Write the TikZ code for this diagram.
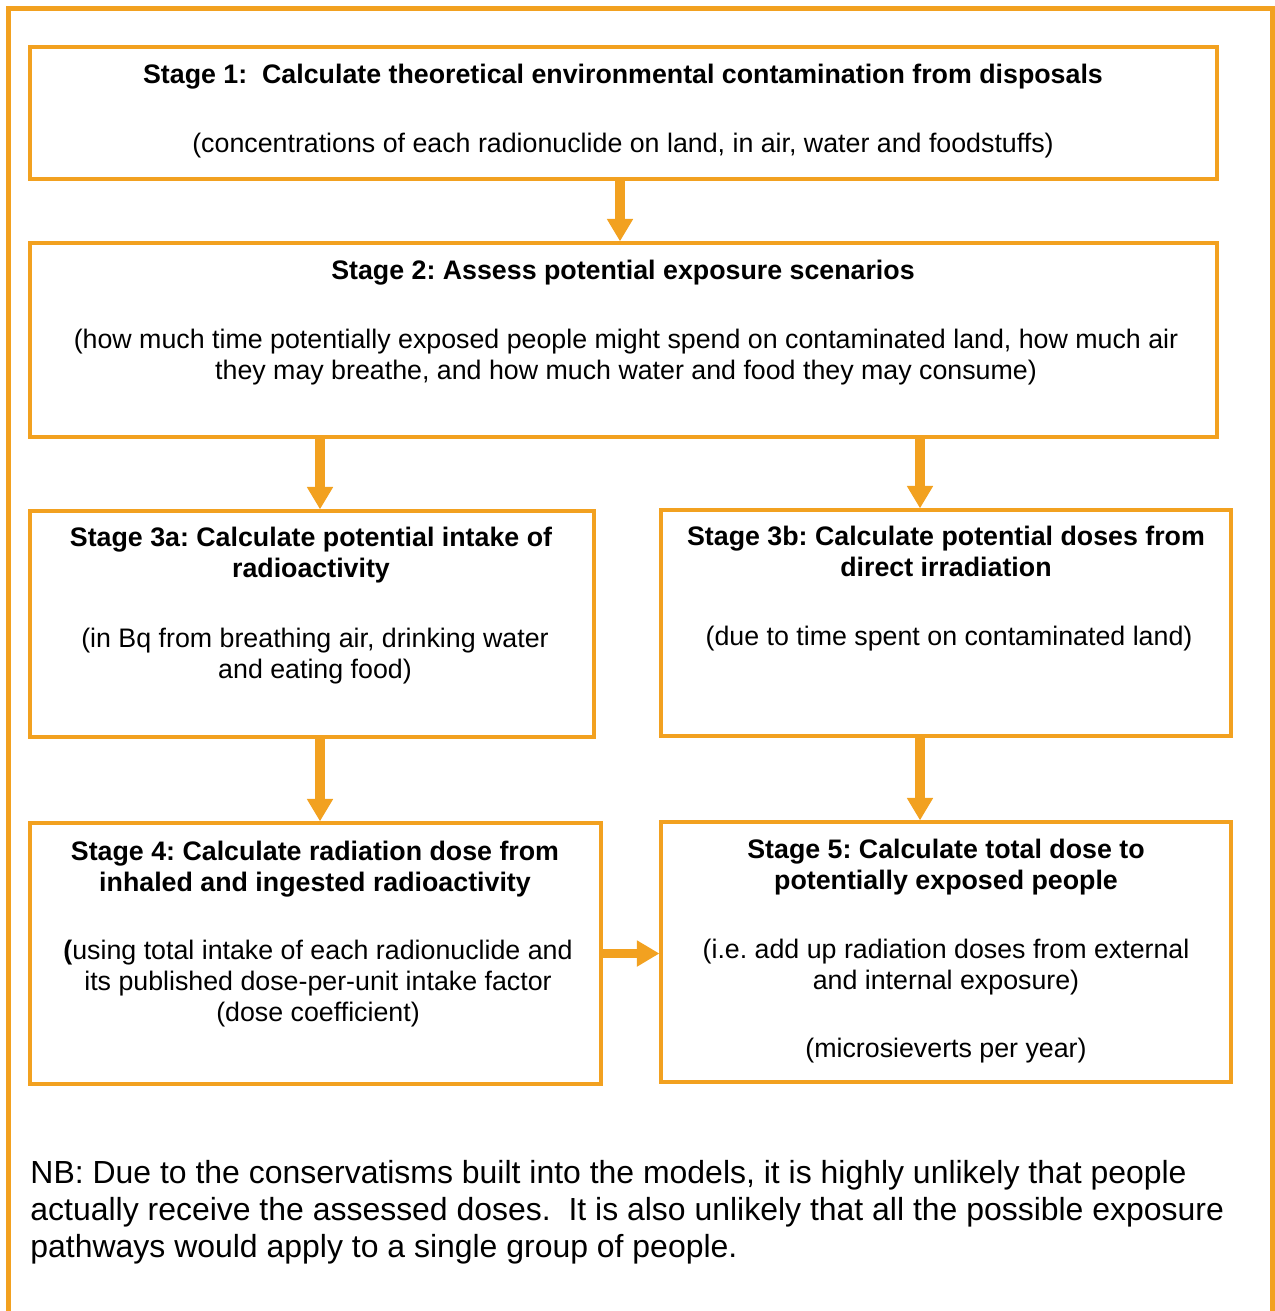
\documentclass[tikz,border=0pt]{standalone}
\usepackage{fontspec}
\setmainfont{Liberation Sans}
\usetikzlibrary{arrows.meta,positioning}
\definecolor{amber}{RGB}{242,161,32}
\def\pxl{0.4444pt}
\frenchspacing

\begin{document}
\begin{tikzpicture}[x=0.4444pt, y=-0.4444pt, line join=miter,
	box/.style={draw=amber, line width=1.4pt, inner sep=0pt},
	flow/.style={draw=amber, line width=4.4pt, -{Triangle[width=11pt,length=10pt]}},
	title/.style={font=\fontsize{11.9}{13.8}\selectfont\bfseries, align=center, inner sep=0pt},
	body/.style={font=\fontsize{11.9}{13.8}\selectfont, align=center, inner sep=0pt}]
	\useasboundingbox (0,0) rectangle (1274,1311);
	% outer frame, open at the bottom
	\draw[amber, line width=2.3pt] (8.5,1320) -- (8.5,8.5) -- (1272.5,8.5) -- (1272.5,1320);
	% the six stage boxes
	\node[box, minimum width=1187*\pxl, minimum height=132*\pxl] (s1) at (623.5,113) {};
	\node[box, minimum width=1187*\pxl, minimum height=194*\pxl] (s2) at (623.5,340) {};
	\node[box, minimum width=564*\pxl, minimum height=226*\pxl] (s3a) at (312,624) {};
	\node[box, minimum width=570*\pxl, minimum height=226*\pxl] (s3b) at (946,623) {};
	\node[box, minimum width=571*\pxl, minimum height=261*\pxl] (s4) at (315.5,953.5) {};
	\node[box, minimum width=570*\pxl, minimum height=260*\pxl] (s5) at (946,952) {};
	\coordinate (colA) at (320,0);
	\coordinate (colB) at (920,0);
	% texts
	\node[title] (t1) at (623,77) {Stage 1:\ \ Calculate theoretical environmental contamination from disposals};
	\node[body] (b1) at (623,146) {(concentrations of each radionuclide on land, in air, water and foodstuffs)};
	\node[title] (t2) at (623,273) {Stage 2: Assess potential exposure scenarios};
	\node[body] (b2) at (626,357.5) {(how much time potentially exposed people might spend on contaminated land, how much air\\they may breathe, and how much water and food they may consume)};
	\node[title] (t3a) at (311,555.5) {Stage 3a: Calculate potential intake of\\radioactivity};
	\node[body] (b3a) at (315,656) {(in Bq from breathing air, drinking water\\and eating food)};
	\node[title] (t3b) at (946,551.5) {Stage 3b: Calculate potential doses from\\direct irradiation};
	\node[body] (b3b) at (949,639) {(due to time spent on contaminated land)};
	\node[title] (t4) at (315,869) {Stage 4: Calculate radiation dose from\\inhaled and ingested radioactivity};
	\node[body] (b4) at (318,984) {\textbf{(}using total intake of each radionuclide and\\its published dose-per-unit intake factor\\(dose coefficient)};
	\node[title] (t5) at (946,867) {Stage 5: Calculate total dose to\\potentially exposed people};
	\node[body] (b5) at (946,967) {(i.e. add up radiation doses from external\\and internal exposure)};
	\node[body] (m5) at (946,1051) {(microsieverts per year)};
	\node[font=\fontsize{14.2}{16.5}\selectfont, align=left, inner sep=0pt, anchor=west] (nb) at (30,1212)
		{NB: Due to the conservatisms built into the models, it is highly unlikely that people\\actually receive the assessed doses.\ \ It is also unlikely that all the possible exposure\\pathways would apply to a single group of people.};
	% arrows
	\draw[flow] (s1.south -| 620,0) -- (s2.north -| 620,0);
	\draw[flow] (s2.south -| colA) -- (s3a.north -| colA);
	\draw[flow] (s2.south -| colB) -- (s3b.north -| colB);
	\draw[flow] (s3a.south -| colA) -- (s4.north -| colA);
	\draw[flow] (s3b.south -| colB) -- (s5.north -| colB);
	\draw[flow] (s4.east) -- (s4.east -| s5.west);
\end{tikzpicture}
\end{document}
